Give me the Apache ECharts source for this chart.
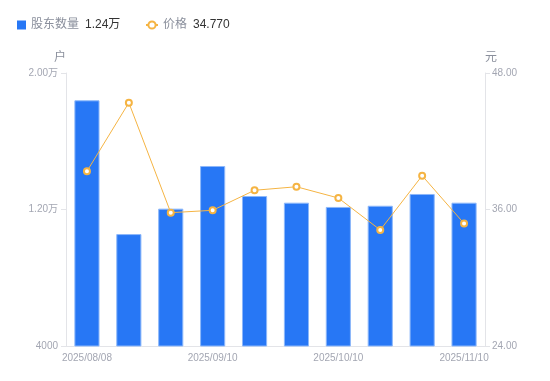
<!DOCTYPE html>
<html>
<head>
<meta charset="utf-8">
<script src="https://cdn.jsdelivr.net/npm/echarts@6/dist/echarts.min.js"></script>
<style>
html,body{margin:0;padding:0;background:#fff;}
#c{width:550px;height:381px;}
</style>
</head>
<body>
<div id="c"></div>
<script>
var categories = ['2025/08/08','2025/08/20','2025/08/29','2025/09/10','2025/09/19','2025/09/30','2025/10/10','2025/10/20','2025/10/31','2025/11/10'];
var holders = [18400, 10560, 12050, 14550, 12790, 12400, 12150, 12220, 12910, 12400];
var prices = [39.36, 45.39, 35.72, 35.93, 37.69, 38.00, 37.01, 34.20, 38.97, 34.77];
var leftTicks = [4000, 12000, 20000];

var FONT = '"Liberation Sans", "Noto Sans CJK SC", sans-serif';
function fmtHolder(v){
  if (v >= 10000) return (v/10000).toFixed(2) + '万';
  return String(v);
}
var legendText = {
  fontFamily: FONT, fontSize: 12, color: '#8a8f9c',
  rich: {
    n: {color: '#8a8f9c', fontSize: 12, fontFamily: FONT},
    v: {color: '#333', fontSize: 12, fontFamily: FONT, padding: [0,0,0,6]}
  }
};
function legendFmt(name){
  if (name === '股东数量') return '{n|股东数量}{v|' + (holders[holders.length-1]/10000).toFixed(2) + '万}';
  return '{n|价格}{v|' + prices[prices.length-1].toFixed(3) + '}';
}
var chart = echarts.init(document.getElementById('c'));
chart.setOption({
  animation: false,
  textStyle: {fontFamily: FONT},
  legend: [
    {
      left: 12, top: 14,
      itemWidth: 9, itemHeight: 9,
      textStyle: legendText, formatter: legendFmt,
      data: [{name: '股东数量', icon: 'rect', itemStyle: {borderWidth: 0}}]
    },
    {
      left: 140, top: 14,
      itemWidth: 12, itemHeight: 9,
      textStyle: legendText, formatter: legendFmt,
      data: [{name: '价格'}]
    }
  ],
  grid: {left: 66, right: 65, top: 73, bottom: 35},
  xAxis: {
    type: 'category',
    data: categories,
    axisLine: {lineStyle: {color: '#e3e4e8'}},
    axisTick: {show: false},
    axisLabel: {interval: 2, color: '#a3a6b2', fontSize: 10, margin: 7, fontFamily: FONT}
  },
  yAxis: [
    {
      type: 'value', min: 4000, max: 20000,
      name: '户', nameGap: 9,
      nameTextStyle: {color: '#8a8f9c', fontSize: 12, align: 'right'},
      axisLine: {show: true, lineStyle: {color: '#e3e4e8'}},
      axisTick: {show: true, length: 5, customValues: leftTicks, lineStyle: {color: '#e3e4e8'}},
      axisLabel: {customValues: leftTicks, color: '#a3a6b2', fontSize: 10, margin: 8, formatter: fmtHolder, fontFamily: FONT},
      splitLine: {show: false}
    },
    {
      type: 'value', min: 24, max: 48, interval: 12,
      name: '元', nameGap: 9,
      nameTextStyle: {color: '#8a8f9c', fontSize: 12, align: 'left'},
      axisLine: {show: true, lineStyle: {color: '#e3e4e8'}},
      axisTick: {show: true, length: 5, lineStyle: {color: '#e3e4e8'}},
      axisLabel: {color: '#a3a6b2', fontSize: 10, margin: 7, formatter: function(v){return v.toFixed(2);}, fontFamily: FONT},
      splitLine: {show: false}
    }
  ],
  series: [
    {
      name: '股东数量', type: 'bar', yAxisIndex: 0,
      data: holders, barWidth: '60%',
      itemStyle: {color: '#2777f5', borderColor: '#8db8fa', borderWidth: 1}
    },
    {
      name: '价格', type: 'line', yAxisIndex: 1,
      data: prices,
      symbol: 'circle', symbolSize: 6,
      lineStyle: {color: '#f5b443', width: 1},
      itemStyle: {color: '#fff', borderColor: '#f5b443', borderWidth: 2}
    }
  ]
});
</script>
</body>
</html>
